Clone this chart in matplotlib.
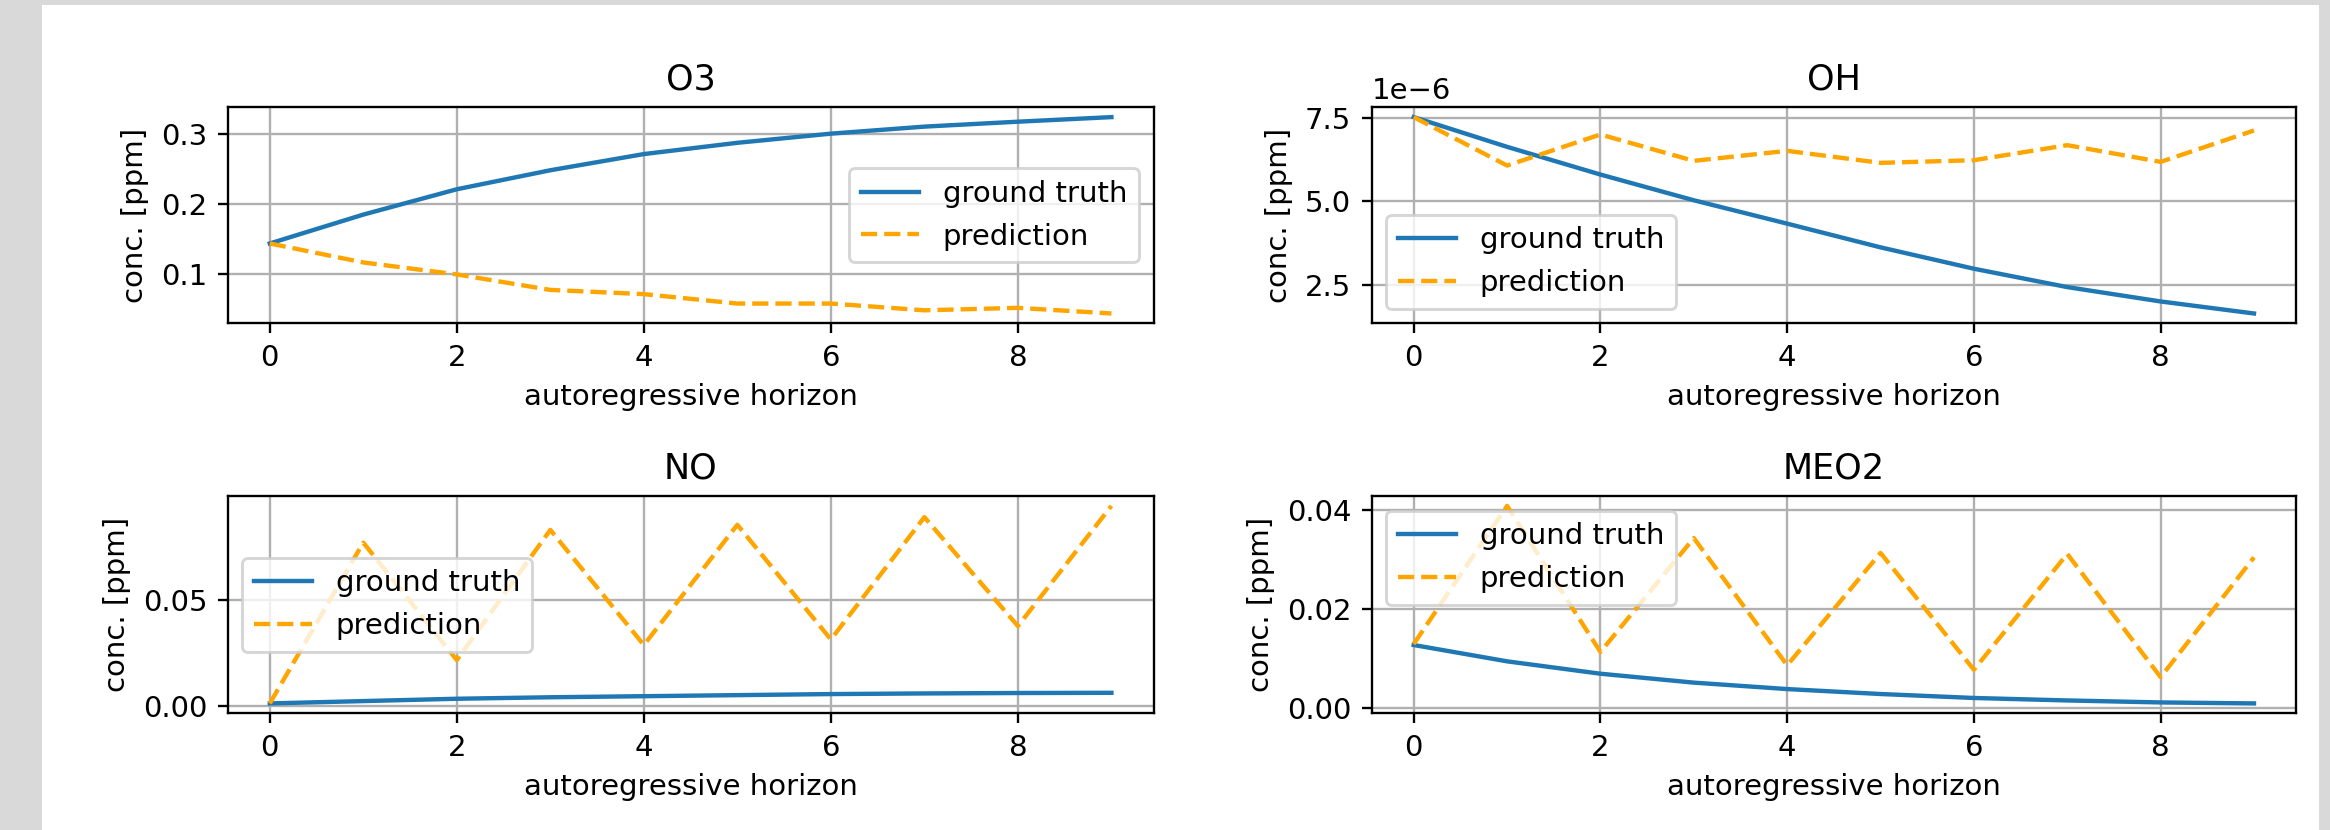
import matplotlib
matplotlib.use("Agg")
import matplotlib.pyplot as plt
from matplotlib.patches import Rectangle

# autoregressive horizon steps
horizon = list(range(10))

species = ["O3", "OH", "NO", "MEO2"]

o3_truth = [0.144, 0.185, 0.221, 0.248, 0.271, 0.287, 0.300, 0.310, 0.317, 0.3235]
o3_pred = [0.144, 0.117, 0.100, 0.078, 0.072, 0.0586, 0.0586, 0.049, 0.0525, 0.0445]

oh_truth = [7.52e-6, 6.63e-6, 5.80e-6, 5.03e-6, 4.33e-6, 3.62e-6, 2.98e-6, 2.43e-6, 2.00e-6, 1.64e-6]
oh_pred = [7.52e-6, 6.07e-6, 7.00e-6, 6.21e-6, 6.51e-6, 6.15e-6, 6.23e-6, 6.68e-6, 6.18e-6, 7.12e-6]

no_truth = [0.0013, 0.0024, 0.0035, 0.0042, 0.0047, 0.0052, 0.0057, 0.0060, 0.0062, 0.0063]
no_pred = [0.0013, 0.077, 0.0217, 0.083, 0.0288, 0.0854, 0.0314, 0.089, 0.0377, 0.0943]

meo2_truth = [0.0128, 0.0095, 0.0070, 0.0052, 0.0039, 0.0029, 0.0021, 0.0016, 0.0012, 0.0010]
meo2_pred = [0.0130, 0.0409, 0.0114, 0.0344, 0.0087, 0.0314, 0.0078, 0.0312, 0.0063, 0.0305]

truths = [o3_truth, oh_truth, no_truth, meo2_truth]
preds = [o3_pred, oh_pred, no_pred, meo2_pred]
legend_locs = ["center right", "lower left", "center left", "upper left"]

W, H, DPI = 2330, 830, 210
fig = plt.figure(figsize=(W / DPI, H / DPI), dpi=DPI, facecolor="#d9d9d9")

# white page area behind the plots
fig.patches.append(Rectangle((41.7 / W, 0), 2277 / W, 825 / H,
                             transform=fig.transFigure, facecolor="white",
                             edgecolor="none", zorder=-1))

# axes boxes in pixels: left, right, top, bottom
boxes = [
    (227.7, 1153.5, 107.3, 323.3),
    (1371.7, 2296.0, 107.3, 323.3),
    (227.7, 1153.5, 496.0, 713.3),
    (1371.7, 2296.0, 496.0, 713.3),
]

for name, truth, pred, loc, (l, r, t, b) in zip(species, truths, preds, legend_locs, boxes):
    ax = fig.add_axes([l / W, 1 - b / H, (r - l) / W, (b - t) / H])
    ax.plot(horizon, truth, label="ground truth")
    ax.plot(horizon, pred, "--", color="orange", label="prediction")
    ax.set_title(name)
    ax.set_xlabel("autoregressive horizon")
    ax.set_ylabel("conc. [ppm]")
    ax.grid(True)
    ax.legend(loc=loc)

fig.savefig("out.png", dpi=DPI, facecolor=fig.get_facecolor())
